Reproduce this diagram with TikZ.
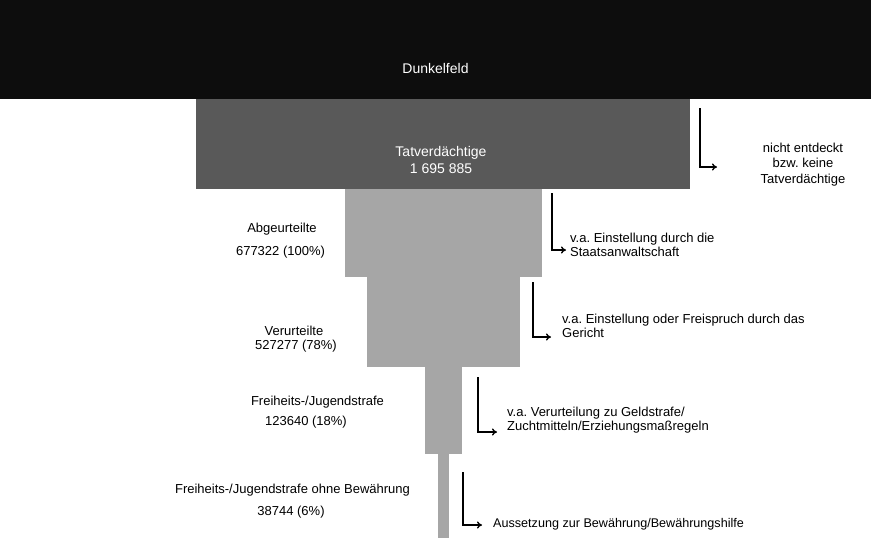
\documentclass[tikz,border=0pt]{standalone}
\usepackage{fontspec}
\setmainfont{Liberation Sans}
\usetikzlibrary{arrows.meta}
\definecolor{darkbar}{HTML}{0D0D0D}
\definecolor{midbar}{HTML}{595959}
\definecolor{lightbar}{HTML}{A6A6A6}
\frenchspacing
\begin{document}
\begin{tikzpicture}[x=1pt,y=-1pt,
  bar/.style={draw=none,inner sep=0pt,outer sep=0pt,anchor=north west},
  lbl/.style={font=\fontsize{13}{15}\selectfont,inner sep=0pt},
  note/.style={font=\fontsize{13}{14.5}\selectfont,inner sep=0pt,align=left,anchor=west},
  arr/.style={line width=1.3pt,-{To[length=5pt,width=7pt]}}
]
\useasboundingbox (0,0) rectangle (871,538);
% bars
\node[bar,fill=darkbar,minimum width=871pt,minimum height=99pt] (dunkel) at (0,0) {};
\node[bar,fill=midbar,minimum width=494pt,minimum height=90pt] (tat) at (196,99) {};
\node[bar,fill=lightbar,minimum width=197pt,minimum height=88pt] (abg) at (345,189) {};
\node[bar,fill=lightbar,minimum width=153pt,minimum height=90pt] (veru) at (367,277) {};
\node[bar,fill=lightbar,minimum width=37pt,minimum height=87pt] (frei) at (425,367) {};
\node[bar,fill=lightbar,minimum width=11.5pt,minimum height=84pt] (ohne) at (437.5,454) {};
% labels in bars
\node[lbl,text=white,font=\fontsize{14}{17}\selectfont] (tDunkel) at (435.5,68) {Dunkelfeld};
\node[lbl,text=white,align=center,font=\fontsize{14}{17}\selectfont] (tTat) at (441,159.5) {Tatverdächtige\\1 695 885};
\node[lbl,align=center,font=\fontsize{13}{15.5}\selectfont] (tNicht) at (803,164.5) {nicht entdeckt\\bzw. keine\\Tatverdächtige};
% left labels
\node[lbl] (tAbg) at (282,229) {Abgeurteilte};
\node[lbl] (nAbg) at (280.5,252) {677322 (100\%)};
\node[lbl] (tVeru) at (294,331) {Verurteilte};
\node[lbl] (nVeru) at (296,346) {527277 (78\%)};
\node[lbl] (tFrei) at (317.5,402) {Freiheits-/Jugendstrafe};
\node[lbl] (nFrei) at (306,422) {123640 (18\%)};
\node[lbl] (tOhne) at (292.5,490) {Freiheits-/Jugendstrafe ohne Bewährung};
\node[lbl] (nOhne) at (291,512) {38744 (6\%)};
% right notes
\node[note] (n1) at (570,245) {v.a. Einstellung durch die\\Staatsanwaltschaft};
\node[note] (n2) at (562,326) {v.a. Einstellung oder Freispruch durch das\\Gericht};
\node[note] (n3) at (507,420) {v.a. Verurteilung zu Geldstrafe/\\Zuchtmitteln/Erziehungsmaßregeln};
\node[note,font=\fontsize{12.6}{14.5}\selectfont] (n4) at (493,524) {Aussetzung zur Bewährung/Bewährungshilfe};
% arrows
\coordinate (a1) at (700,108); \coordinate (b1) at (717,167);
\coordinate (a2) at (552,193); \coordinate (b2) at (566,250);
\coordinate (a3) at (533,282); \coordinate (b3) at (551,337);
\coordinate (a4) at (478,377); \coordinate (b4) at (497,432);
\coordinate (a5) at (463,472); \coordinate (b5) at (482,525);
\draw[arr] (a1) |- (b1);
\draw[arr] (a2) |- (b2);
\draw[arr] (a3) |- (b3);
\draw[arr] (a4) |- (b4);
\draw[arr] (a5) |- (b5);
\end{tikzpicture}
\end{document}
